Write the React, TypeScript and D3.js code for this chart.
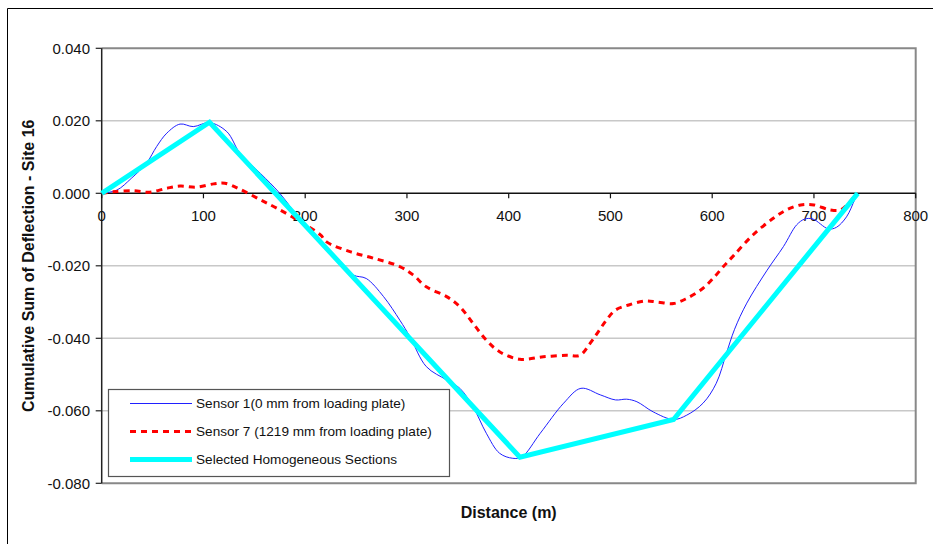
import React from 'react';
import * as d3 from 'd3';

// distance (m) and cumulative sum values
const sensor1Dist = [0, 15, 29, 44, 54, 64, 77, 90, 106, 123, 136, 156, 175, 200, 225, 247, 260, 277, 293, 303, 319, 339, 352, 365, 378, 391, 404, 413, 431, 454, 471, 490, 505, 516, 526, 542, 562, 575, 591, 604, 614, 622, 634, 654, 670, 683, 691, 699, 714, 722, 732, 740, 743];
const sensor1Vals = [0, 0.0009, 0.0041, 0.0083, 0.0129, 0.0166, 0.0191, 0.0184, 0.0195, 0.017, 0.011, 0.0055, 0, -0.009, -0.0163, -0.0225, -0.0235, -0.0285, -0.035, -0.0396, -0.0478, -0.0515, -0.0538, -0.0589, -0.0662, -0.0717, -0.0731, -0.0727, -0.0662, -0.0579, -0.0538, -0.0556, -0.057, -0.0568, -0.0575, -0.0603, -0.0624, -0.0612, -0.0579, -0.0524, -0.0441, -0.0375, -0.0303, -0.0212, -0.0147, -0.0087, -0.0071, -0.0071, -0.0098, -0.0094, -0.0065, -0.0018, 0];

const sensor7Dist = [0, 11, 31, 47, 64, 77, 93, 110, 121, 136, 156, 172, 195, 215, 221, 244, 267, 293, 306, 319, 339, 352, 365, 378, 391, 411, 434, 457, 470, 480, 488, 496, 505, 518, 534, 546, 562, 575, 591, 603, 611, 621, 640, 660, 673, 687, 700, 716, 726, 734, 742];
const sensor7Vals = [0, 0.0004, 0.0007, 0.0003, 0.0014, 0.002, 0.0017, 0.0026, 0.0028, 0.0011, -0.0018, -0.0041, -0.0078, -0.0115, -0.0134, -0.0161, -0.0179, -0.0202, -0.0225, -0.0258, -0.0285, -0.0313, -0.0359, -0.0405, -0.0437, -0.0458, -0.0451, -0.0447, -0.0447, -0.0414, -0.0382, -0.035, -0.0322, -0.0308, -0.0297, -0.03, -0.0304, -0.029, -0.0262, -0.0228, -0.0202, -0.0172, -0.0115, -0.0069, -0.0046, -0.0032, -0.0032, -0.0046, -0.0046, -0.0028, 0];

const sectionDist = [0, 106, 411, 562, 743];
const sectionVals = [0, 0.0196, -0.0728, -0.0624, 0];

const xTicks = [0, 100, 200, 300, 400, 500, 600, 700, 800];
const yTicks = [0.04, 0.02, 0, -0.02, -0.04, -0.06, -0.08];

const seriesNames = [
  'Sensor 1(0 mm from loading plate)',
  'Sensor 7 (1219 mm from loading plate)',
  'Selected Homogeneous Sections',
];

const font = 'Liberation Sans, Arial, sans-serif';

export default function App() {
  const x = d3.scaleLinear().domain([0, 800]).range([101.7, 915.7]);
  const y = d3.scaleLinear().domain([-0.08, 0.04]).range([483.3, 48.3]);

  const mkPath = (xs: number[], ys: number[], curve: any) =>
    d3
      .line<[number, number]>()
      .x(d => x(d[0]))
      .y(d => y(d[1]))
      .curve(curve)(xs.map((v, i) => [v, ys[i]] as [number, number])) || '';

  const s1 = mkPath(sensor1Dist, sensor1Vals, d3.curveCatmullRom.alpha(0.5));
  const s7 = mkPath(sensor7Dist, sensor7Vals, d3.curveCatmullRom.alpha(0.5));
  const sec = mkPath(sectionDist, sectionVals, d3.curveLinear);

  const x0 = x(0), x1 = x(800), yTop = y(0.04), yBot = y(-0.08), yZero = y(0);

  const legendStyles = [
    { stroke: '#2020ff', width: 1, dash: undefined as string | undefined },
    { stroke: '#ff0000', width: 3, dash: '6,5' },
    { stroke: '#00ffff', width: 5, dash: undefined },
  ];

  return (
    <svg width={936} height={544} style={{ display: 'block', position: 'absolute', left: 0, top: 0 }}>
      <rect x={0} y={0} width={936} height={544} fill="#fff" />
      {/* outer frame */}
      <path d="M7.5,544 V8.5 H933" fill="none" stroke="#000" strokeWidth={1} />

      {/* gridlines */}
      {yTicks.filter(t => t !== 0 && t !== 0.04 && t !== -0.08).map(t => (
        <line key={t} x1={x0} x2={x1} y1={y(t)} y2={y(t)} stroke="#c8c8c8" strokeWidth={1.5} />
      ))}
      {/* plot border */}
      <path d={`M${x0},${yTop} H${x1} V${yBot} H${x0}`} fill="none" stroke="#888" strokeWidth={2} />

      {/* y axis */}
      <line x1={x0} x2={x0} y1={yTop} y2={yBot} stroke="#222" strokeWidth={1.5} />
      {yTicks.map(t => (
        <g key={t}>
          <line x1={x0 - 6} x2={x0} y1={y(t)} y2={y(t)} stroke="#222" strokeWidth={1.2} />
          <text x={90} y={y(t)} dy="0.36em" textAnchor="end" fontFamily={font} fontSize={15} fill="#111">
            {t.toFixed(3)}
          </text>
        </g>
      ))}

      {/* x axis at zero */}
      <line x1={x0} x2={x1} y1={yZero} y2={yZero} stroke="#111" strokeWidth={1.5} />
      {xTicks.map(t => (
        <g key={t}>
          <line x1={x(t)} x2={x(t)} y1={yZero} y2={yZero + 5} stroke="#111" strokeWidth={1.2} />
          <text x={x(t)} y={221} textAnchor="middle" fontFamily={font} fontSize={15} fill="#111">
            {t}
          </text>
        </g>
      ))}

      {/* series */}
      <path d={s1} fill="none" stroke={legendStyles[0].stroke} strokeWidth={1} />
      <path d={s7} fill="none" stroke={legendStyles[1].stroke} strokeWidth={3} strokeDasharray="6,5" />
      <path d={sec} fill="none" stroke={legendStyles[2].stroke} strokeWidth={5} strokeLinejoin="miter" />

      {/* axis titles */}
      <text x={(x0 + x1) / 2} y={518} textAnchor="middle" fontFamily={font} fontSize={16} fontWeight="bold" fill="#111">
        Distance (m)
      </text>
      <text
        transform={`translate(34,${(yTop + yBot) / 2}) rotate(-90)`}
        textAnchor="middle"
        fontFamily={font}
        fontSize={16}
        fontWeight="bold"
        fill="#111"
      >
        Cumulative Sum of Deflection - Site 16
      </text>

      {/* legend */}
      <rect x={108.5} y={389.5} width={341} height={87} fill="#fff" stroke="#555" strokeWidth={1.2} />
      {seriesNames.map((name, i) => {
        const ly = 403.5 + i * 28;
        const st = legendStyles[i];
        return (
          <g key={name}>
            <line x1={130} x2={192} y1={ly} y2={ly} stroke={st.stroke} strokeWidth={st.width} strokeDasharray={st.dash} />
            <text x={196} y={ly} dy="0.36em" fontFamily={font} fontSize={13.6} fill="#111">
              {name}
            </text>
          </g>
        );
      })}
    </svg>
  );
}
